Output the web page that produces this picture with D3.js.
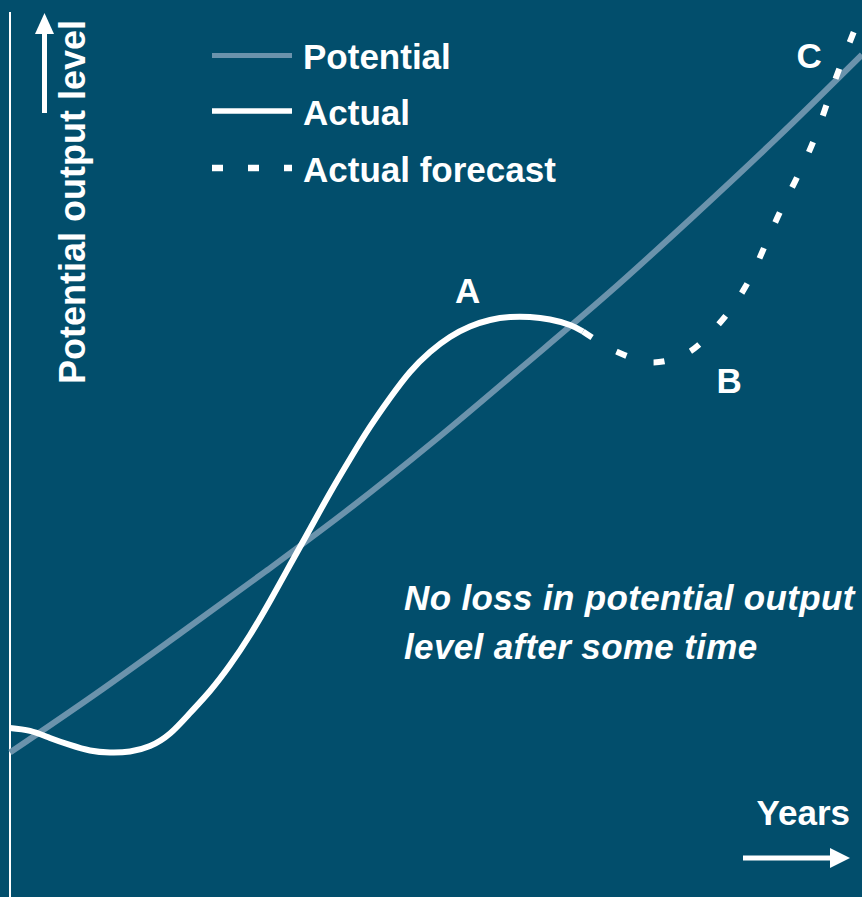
<!DOCTYPE html>
<html>
<head>
<meta charset="utf-8">
<script src="https://cdn.jsdelivr.net/npm/d3@7"></script>
<style>
  html, body { margin: 0; padding: 0; background: #024e6c; }
  svg { display: block; }
  text { font-family: "Liberation Sans", Arial, sans-serif; fill: #ffffff; font-weight: bold; }
</style>
</head>
<body>
<svg id="chart" width="862" height="897"></svg>
<script>
// Time (years, arbitrary units 0–100) and output level (arbitrary units 0–100)
const potentialYears  = [0, 10, 20, 30, 40, 50, 60, 70, 80, 90, 100];
const potentialLevels = [16.1, 22.6, 29.4, 36.3, 43.4, 51.0, 59.0, 67.1, 75.7, 84.6, 93.9];

const actualYears  = [0, 2.35, 4.69, 7.04, 9.39, 11.74, 14.08, 16.43, 18.78, 21.13,
                      23.47, 25.82, 28.17, 30.52, 32.86, 35.21, 37.56, 39.91, 42.25, 44.60,
                      46.95, 49.30, 51.64, 53.99, 56.34, 58.69, 61.03, 63.38, 65.73, 67.25];
const actualLevels = [18.84, 18.51, 17.73, 16.95, 16.33, 16.11, 16.22, 16.83, 18.23, 20.51,
                      22.97, 25.86, 29.21, 33.00, 37.01, 41.03, 45.04, 48.83, 52.40, 55.63,
                      58.53, 60.76, 62.43, 63.60, 64.33, 64.66, 64.66, 64.38, 63.77, 63.04];

const forecastYears  = [67.25, 71.2, 75.4, 79.6, 83.3, 86.3, 90.1, 94.1, 97.2, 100];
const forecastLevels = [63.04, 60.8, 59.6, 60.7, 64.0, 68.0, 75.8, 83.8, 92.0, 98.7];

const seriesNames = ["Potential", "Actual", "Actual forecast"];
const pointLabels = ["A", "B", "C"];
const pointYears  = [53.7, 84.4, 93.8];
const pointLevels = [66.2, 56.2, 92.4];

const axisTitleY = "Potential output level";
const axisTitleX = "Years";
const noteLines  = ["No loss in potential output", "level after some time"];

const W = 862, H = 897;
const bg = "#024e6c";
const potentialColor = "#6b93ac";

const svg = d3.select("#chart");
svg.append("rect").attr("width", W).attr("height", H).attr("fill", bg);

const x = d3.scaleLinear().domain([0, 100]).range([10, 862]);
const y = d3.scaleLinear().domain([0, 100]).range([897, 0]);

const zip = (xs, ys) => xs.map((d, i) => [d, ys[i]]);
const smoothLine = d3.line()
  .x(d => x(d[0]))
  .y(d => y(d[1]))
  .curve(d3.curveCatmullRom.alpha(0.5));
const splineLine = d3.line()
  .x(d => x(d[0]))
  .y(d => y(d[1]))
  .curve(d3.curveNatural);

// Vertical axis line
svg.append("line")
  .attr("x1", 10).attr("x2", 10)
  .attr("y1", 12).attr("y2", H)
  .attr("stroke", "#fff").attr("stroke-width", 2);

// Potential output
svg.append("path")
  .datum(zip(potentialYears, potentialLevels))
  .attr("d", smoothLine)
  .attr("fill", "none")
  .attr("stroke", potentialColor)
  .attr("stroke-width", 6);

// Actual output
svg.append("path")
  .datum(zip(actualYears, actualLevels))
  .attr("d", splineLine)
  .attr("fill", "none")
  .attr("stroke", "#fff")
  .attr("stroke-width", 6)
  .attr("stroke-linejoin", "round");

// Forecast of actual output
svg.append("path")
  .datum(zip(forecastYears, forecastLevels))
  .attr("d", smoothLine)
  .attr("fill", "none")
  .attr("stroke", "#fff")
  .attr("stroke-width", 6)
  .attr("stroke-dasharray", "11,28");

// Point labels
svg.selectAll("text.pt")
  .data(pointLabels)
  .join("text")
  .attr("class", "pt")
  .attr("x", (d, i) => x(pointYears[i]))
  .attr("y", (d, i) => y(pointLevels[i]))
  .attr("text-anchor", "middle")
  .attr("font-size", 35)
  .text(d => d);

// Legend
const legend = svg.append("g");
const legendRows = [
  { stroke: potentialColor, width: 5, dash: null },
  { stroke: "#fff", width: 5.5, dash: null },
  { stroke: "#fff", width: 6.5, dash: "11,25" }
];
const legendY = [55.5, 111, 168];
legendRows.forEach((r, i) => {
  legend.append("line")
    .attr("x1", 212).attr("x2", 292)
    .attr("y1", legendY[i]).attr("y2", legendY[i])
    .attr("stroke", r.stroke)
    .attr("stroke-width", r.width)
    .attr("stroke-dasharray", r.dash);
  legend.append("text")
    .attr("x", 303)
    .attr("y", legendY[i] + 13.5)
    .attr("font-size", 35)
    .text(seriesNames[i]);
});

// Y-axis title with upward arrow
svg.append("text")
  .attr("transform", "translate(85,202) rotate(-90)")
  .attr("text-anchor", "middle")
  .attr("font-size", 36)
  .text(axisTitleY);

svg.append("line")
  .attr("x1", 44.5).attr("x2", 44.5)
  .attr("y1", 113).attr("y2", 30)
  .attr("stroke", "#fff").attr("stroke-width", 5);
svg.append("path")
  .attr("d", "M44.5,13 L54,34 L35,34 Z")
  .attr("fill", "#fff");

// X-axis title with rightward arrow
svg.append("text")
  .attr("x", 850)
  .attr("y", 825)
  .attr("text-anchor", "end")
  .attr("font-size", 35)
  .text(axisTitleX);

svg.append("line")
  .attr("x1", 743).attr("x2", 834)
  .attr("y1", 858).attr("y2", 858)
  .attr("stroke", "#fff").attr("stroke-width", 5);
svg.append("path")
  .attr("d", "M850,858 L830,848 L830,868 Z")
  .attr("fill", "#fff");

// Note
svg.append("text")
  .attr("x", 404)
  .attr("y", 610)
  .attr("font-size", 35)
  .attr("font-style", "italic")
  .attr("letter-spacing", 0.35)
  .selectAll("tspan")
  .data(noteLines)
  .join("tspan")
  .attr("x", 404)
  .attr("dy", (d, i) => i === 0 ? 0 : 49)
  .text(d => d);
</script>
</body>
</html>
